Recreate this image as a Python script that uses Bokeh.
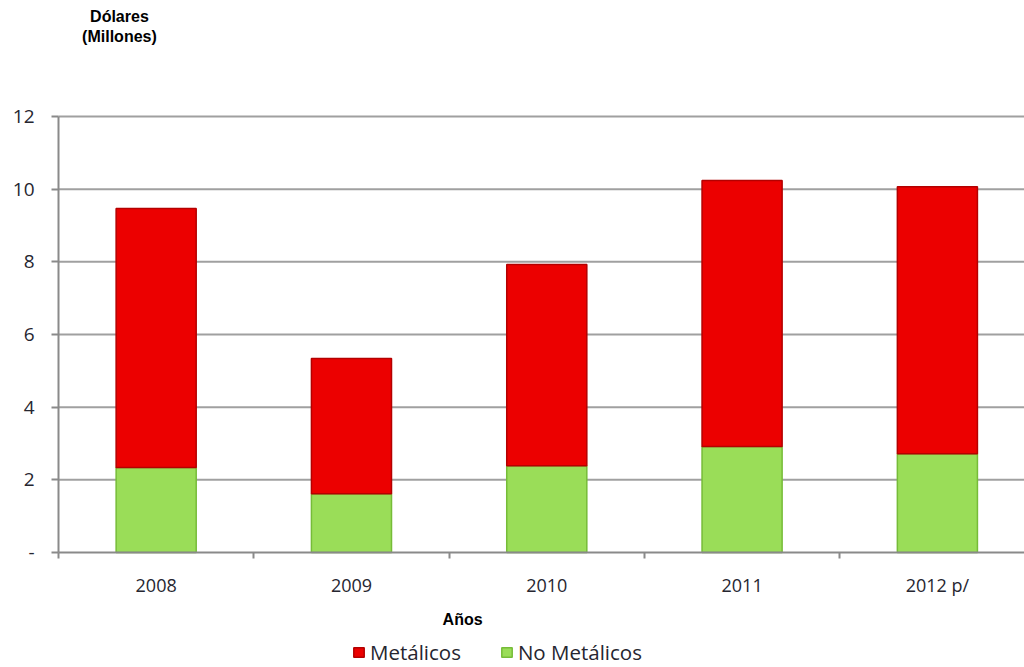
from bokeh.plotting import figure
from bokeh.models import (Range1d, FixedTicker, ColumnDataSource, Legend,
                          LegendItem, Label, LinearAxis)
from bokeh.embed import file_html
from bokeh.resources import INLINE

# ---- data (US$ millions) ----
years = ["2008", "2009", "2010", "2011", "2012 p/"]
no_metalicos = [2.34, 1.62, 2.39, 2.92, 2.72]
metalicos = [7.13, 3.72, 5.54, 7.32, 7.35]
y_ticks = [0, 2, 4, 6, 8, 10, 12]

RED = "#EC0000"
RED_EDGE = "#B40000"
GREEN = "#9ADD58"
GREEN_EDGE = "#76BC38"
TXT = "#262630"
AX = "#8a8a8a"

X_END = 4.946
Y_TOP = 12

xs = [i + 0.5 for i in range(len(years))]
source = ColumnDataSource(dict(x=xs, no=no_metalicos, met=metalicos))

p = figure(width=1024, height=667, output_backend="svg", toolbar_location=None,
           x_range=Range1d(-0.297, X_END), y_range=Range1d(-3.165, 15.193),
           x_axis_type=None, y_axis_type=None,
           min_border=0)
p.outline_line_color = None
p.background_fill_color = "white"
p.grid.visible = False

# horizontal grid lines (from the tick list), under the bars
grid_y = [t for t in y_ticks if t > 0]
p.segment(x0=[0] * len(grid_y), x1=[X_END] * len(grid_y), y0=grid_y, y1=grid_y,
          line_color="#a0a0a0", line_width=2, level="underlay")

rs = p.vbar_stack(["no", "met"], x="x", width=0.41, source=source,
                  fill_color=[GREEN, RED], line_color=[GREEN_EDGE, RED_EDGE],
                  line_width=1.5)

# y axis
yax = LinearAxis(fixed_location=0, bounds=(0, Y_TOP),
                 ticker=FixedTicker(ticks=y_ticks))
yax.major_label_overrides = {0: "-"}
yax.axis_line_color = AX
yax.axis_line_width = 2
yax.major_tick_line_color = AX
yax.major_tick_line_width = 2
yax.major_tick_out = 7
yax.major_tick_in = 0
yax.minor_tick_line_color = None
yax.major_label_standoff = 17
yax.major_label_text_font = "Open Sans"
yax.major_label_text_font_size = "19px"
yax.major_label_text_color = TXT
p.add_layout(yax, "left")

# x axis
xax = LinearAxis(fixed_location=0, bounds=(0, X_END),
                 ticker=FixedTicker(ticks=xs,
                                    minor_ticks=list(range(len(years) + 1))))
xax.major_label_overrides = {x: y for x, y in zip(xs, years)}
xax.axis_line_color = AX
xax.axis_line_width = 2
xax.major_tick_line_color = None
xax.major_tick_out = 0
xax.major_tick_in = 0
xax.minor_tick_line_color = AX
xax.minor_tick_line_width = 2
xax.minor_tick_out = 6
xax.minor_tick_in = 0
xax.major_label_standoff = 14
xax.major_label_text_font = "Open Sans"
xax.major_label_text_font_size = "18px"
xax.major_label_text_color = TXT
p.add_layout(xax, "below")

# titles
p.add_layout(Label(x=0.312, y=14.48, text="Dólares\n(Millones)",
                   text_align="center", text_baseline="middle",
                   text_font="Liberation Sans", text_font_style="bold",
                   text_font_size="16px", text_color="#000000",
                   text_line_height=1.15))
p.add_layout(Label(x=2.069, y=-1.844, text="Años", text_align="center",
                   text_baseline="middle", text_font="Liberation Sans",
                   text_font_style="bold", text_font_size="16px",
                   text_color="#000000"))

legend = Legend(items=[LegendItem(label="Metálicos", renderers=[rs[1]]),
                       LegendItem(label="No Metálicos", renderers=[rs[0]])],
                orientation="horizontal", location=(352, 1),
                padding=0, margin=0, spacing=39, label_standoff=5,
                glyph_width=13, glyph_height=12,
                label_text_font="Open Sans", label_text_font_size="20.5px",
                label_text_color=TXT, border_line_color=None,
                background_fill_alpha=0)
p.add_layout(legend)

open("out.html", "w").write(file_html(p, INLINE))
